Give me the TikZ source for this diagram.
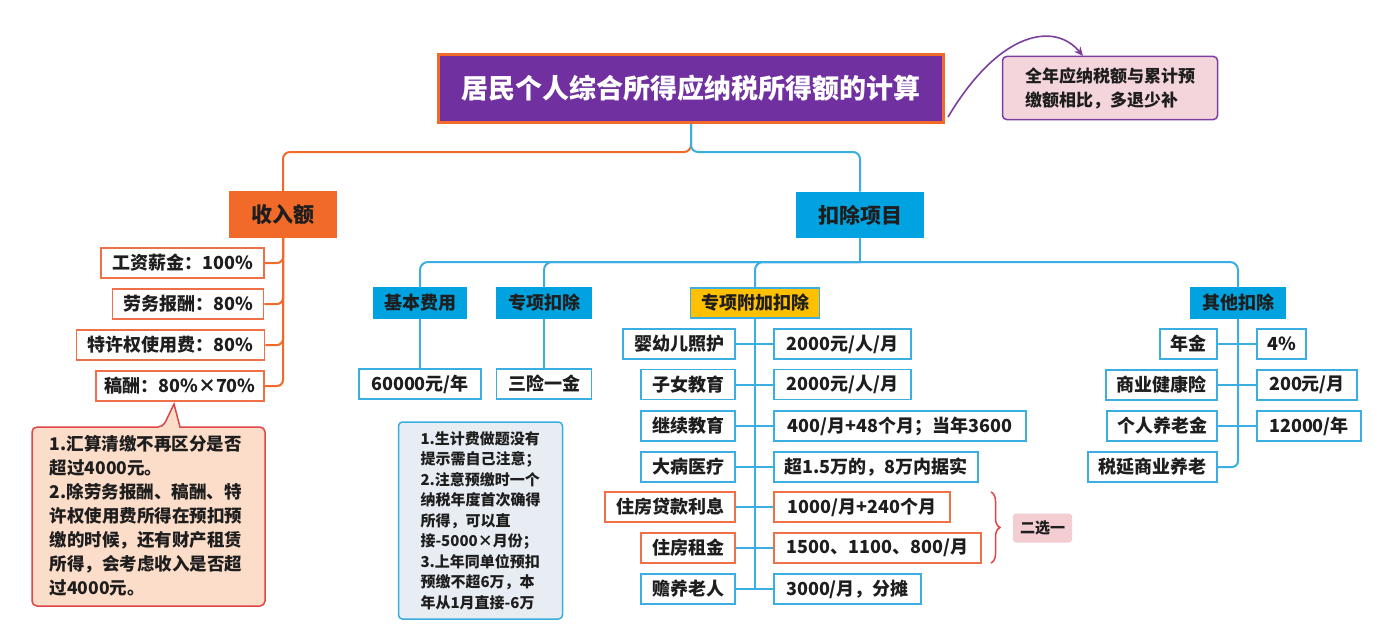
\documentclass[tikz,border=0pt]{standalone}
\usepackage{fontspec}
\setmainfont{Noto Sans CJK SC}
\usetikzlibrary{arrows.meta,decorations.pathreplacing}
\definecolor{txt}{HTML}{1E1E1E}
\definecolor{omain}{HTML}{F26A2A}
\definecolor{oline}{HTML}{EF7048}
\definecolor{bmain}{HTML}{00A3E0}
\definecolor{bline}{HTML}{3AAEE0}
\definecolor{gold}{HTML}{FFC000}
\definecolor{ttl}{HTML}{7030A0}
\definecolor{npink}{HTML}{F5D5DC}
\definecolor{npurp}{HTML}{7B3F9E}
\definecolor{peach}{HTML}{FCDDC9}
\definecolor{cred}{HTML}{E04545}
\definecolor{notebg}{HTML}{E7EDF2}
\definecolor{chpink}{HTML}{F4CDD3}
\tikzset{
  base/.style={font=\bfseries\fontsize{18}{22}\selectfont, text=txt, inner sep=0pt, minimum height=30pt, line width=1.6pt},
  obox/.style={base, draw=oline, fill=white},
  bbox/.style={base, draw=bline, fill=white},
  bfill/.style={base, draw=bmain, fill=bmain},
  olink/.style={draw=omain, line width=2pt, rounded corners=7pt},
  blink/.style={draw=bline, line width=2pt, rounded corners=7pt},
}
\begin{document}
\begin{tikzpicture}[x=1pt,y=-1pt]
\useasboundingbox[fill=white] (0,0) rectangle (1385,642);

% title
\node[draw=omain, line width=3pt, fill=ttl, text=white, inner sep=0pt,
  font=\bfseries\fontsize{27}{30}\selectfont, minimum width=505pt, minimum height=68pt] (title) at (691,88.5) {居民个人综合所得应纳税所得额的计算};

% top note
\node[draw=npurp, fill=npink, line width=1.5pt, rounded corners=4pt, inner sep=0pt,
  minimum width=215pt, minimum height=63pt, align=left, text=txt,
  font=\bfseries\fontsize{17}{24}\selectfont] (tnote) at (1110,88) {全年应纳税额与累计预\\缴额相比，多退少补};
\coordinate (as) at (948,117);
\coordinate (ae) at (1083,56);
\draw[draw=npurp, line width=1.6pt, -{Stealth[length=9pt,width=8pt]}] (as) .. controls (1000,30) and (1055,22) .. (ae);

% level 1
\node[base, fill=omain, draw=omain, font=\bfseries\fontsize{21}{24}\selectfont, minimum width=107pt, minimum height=45pt] (inc) at (283,214.5) {收入额};
\node[base, fill=bmain, draw=bmain, font=\bfseries\fontsize{21}{24}\selectfont, minimum width=126pt, minimum height=45pt] (ded) at (860,215) {扣除项目};
\coordinate (tj) at (691,152);
\draw[olink] (title.south) -- (tj) -| (inc.north);
\draw[blink] (title.south) -- (tj) -| (ded.north);

% income items
\node[obox, minimum width=163pt] (i1) at (182.5,263) {工资薪金：100\%};
\node[obox, minimum width=151pt] (i2) at (188,304) {劳务报酬：80\%};
\node[obox, minimum width=188pt] (i3) at (170.5,345) {特许权使用费：80\%};
\node[obox, minimum width=168pt] (i4) at (180,386) {稿酬：80\%×70\%};
\foreach \n in {i1,i2,i3,i4} \draw[olink, rounded corners=6pt] (inc.south) |- (\n.east);

% callout
\filldraw[fill=peach, draw=cred, line width=1.5pt] (32,520) [rounded corners=5pt] -- (32,427) -- (163,427) [sharp corners] -- (174,404) -- (180,427) [rounded corners=5pt] -- (265,427) -- (265,606) -- (32,606) -- cycle;
\node[align=left, text=txt, inner sep=0pt, font=\bfseries\fontsize{17.5}{24}\selectfont] (cnote) at (146,516) {1.汇算清缴不再区分是否\\超过4000元。\\2.除劳务报酬、稿酬、特\\许权使用费所得在预扣预\\缴的时候，还有财产租赁\\所得，会考虑收入是否超\\过4000元。};

% deduction level 2
\coordinate (dj) at (860,262);
\node[bfill, minimum width=93pt] (jb) at (420,303) {基本费用};
\node[bfill, minimum width=95pt] (zx) at (544,303) {专项扣除};
\node[base, fill=gold, draw=bline, minimum width=129pt] (zf) at (755,303) {专项附加扣除};
\node[bfill, minimum width=95pt] (qt) at (1238,303) {其他扣除};
\draw[blink] (ded.south) -- (dj);
\foreach \n in {jb,zx,zf,qt} \draw[blink, rounded corners=8pt] (dj) -| (\n.north);

% level 3 left
\node[bbox, minimum width=122pt] (v1) at (420,384) {60000元/年};
\node[bbox, minimum width=95pt] (v2) at (544,384) {三险一金};
\draw[blink] (jb.south) -- (v1.north);
\draw[blink] (zx.south) -- (v2.north);

\node[draw=bline, fill=notebg, line width=1.5pt, rounded corners=4pt, inner sep=0pt,
  minimum width=164pt, minimum height=197pt, align=left, text=txt,
  font=\bfseries\fontsize{15}{20.5}\selectfont] (bnote) at (480.5,520.5) {1.生计费做题没有\\提示需自己注意；\\2.注意预缴时一个\\纳税年度首次确得\\所得，可以直\\接-5000×月份；\\3.上年同单位预扣\\预缴不超6万，本\\年从1月直接-6万};

% special additional deductions
\node[bbox, minimum width=112pt] (a1) at (679,344) {婴幼儿照护};
\node[bbox, minimum width=94pt] (a2) at (688,384.5) {子女教育};
\node[bbox, minimum width=94pt] (a3) at (688,426) {继续教育};
\node[bbox, minimum width=94pt] (a4) at (688,467) {大病医疗};
\node[obox, minimum width=130pt] (a5) at (670,507) {住房贷款利息};
\node[obox, minimum width=94pt] (a6) at (688,548) {住房租金};
\node[bbox, minimum width=94pt] (a7) at (688,589) {赡养老人};
\node[bbox, minimum width=137pt] (b1) at (842.5,344) {2000元/人/月};
\node[bbox, minimum width=137pt] (b2) at (842.5,384.5) {2000元/人/月};
\node[bbox, minimum width=252pt] (b3) at (900,426) {400/月+48个月；当年3600};
\node[bbox, minimum width=204pt] (b4) at (876,467) {超1.5万的，8万内据实};
\node[obox, minimum width=176pt] (b5) at (862,507) {1000/月+240个月};
\node[obox, minimum width=207pt] (b6) at (877.5,548) {1500、1100、800/月};
\node[bbox, minimum width=147pt] (b7) at (847.5,589) {3000/月，分摊};
\draw[blink] (zf.south) -- (zf.south |- a7.east);
\foreach \i in {1,...,7} \draw[blink] (a\i.east) -- (b\i.west);

% brace
\coordinate (br1) at (991,492);
\coordinate (br2) at (991,563);
\draw[draw=cred, line width=1.5pt, decorate, decoration={brace, amplitude=9pt}] (br1) -- (br2);
\node[fill=chpink, rounded corners=3pt, inner sep=0pt, minimum width=59pt, minimum height=29pt, text=txt,
  font=\bfseries\fontsize{15}{18}\selectfont] (choose) at (1042.5,528) {二选一};

% other deductions
\node[bbox, minimum width=57pt] (o1) at (1188.5,344) {年金};
\node[bbox, minimum width=111pt] (o2) at (1161.5,385) {商业健康险};
\node[bbox, minimum width=110pt] (o3) at (1162,426) {个人养老金};
\node[bbox, minimum width=129pt] (o4) at (1152.5,467) {税延商业养老};
\node[bbox, minimum width=49pt] (p1) at (1281.5,344) {4\%};
\node[bbox, minimum width=100pt] (p2) at (1307,385) {200元/月};
\node[bbox, minimum width=104pt] (p3) at (1309,426) {12000/年};
\draw[blink, rounded corners=6pt] (qt.south) |- (o4.east);
\foreach \i in {1,2,3} \draw[blink] (o\i.east) -- (p\i.west);
\end{tikzpicture}
\end{document}
